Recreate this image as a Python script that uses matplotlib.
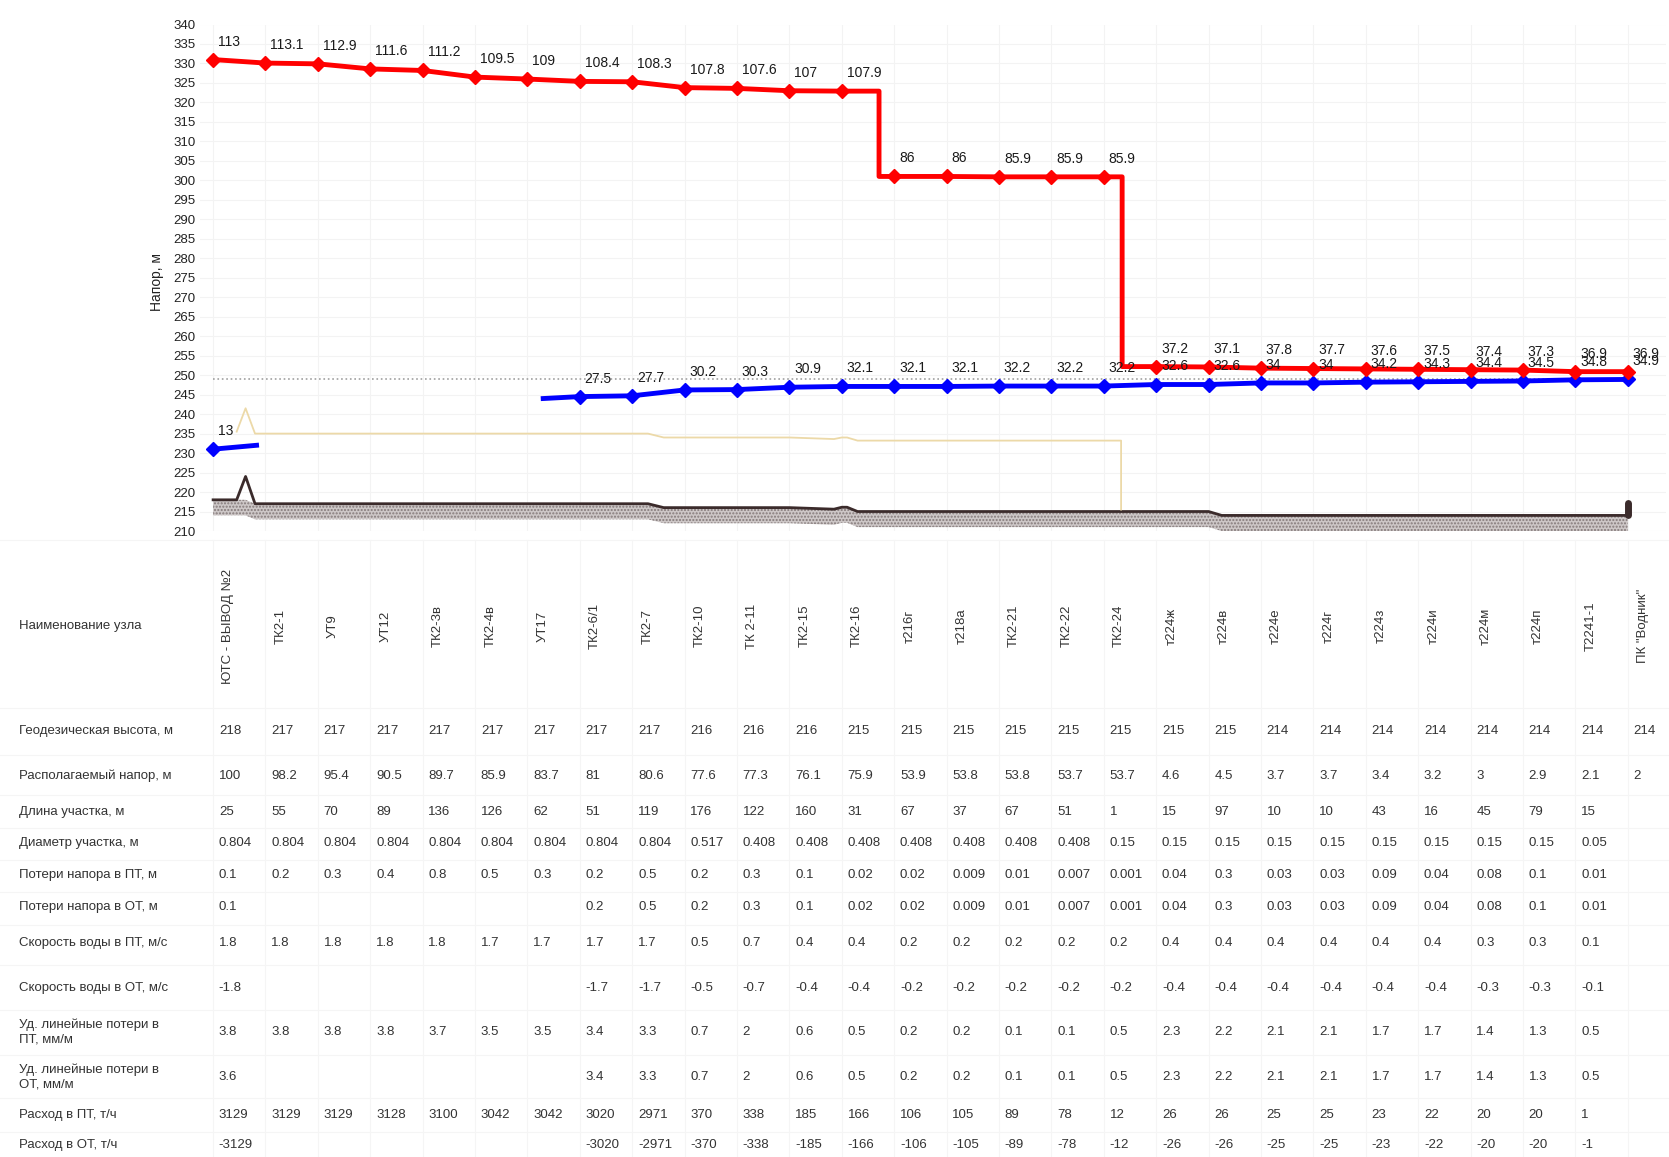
import matplotlib
matplotlib.use("Agg")
import matplotlib.pyplot as plt
import matplotlib.transforms as mtransforms
import numpy as np

plt.rcParams['font.family'] = ['Liberation Sans', 'DejaVu Sans']

# узлы трассы
nodes = ['ЮТС - ВЫВОД №2', 'ТК2-1', 'УТ9', 'УТ12', 'ТК2-3в', 'ТК2-4в', 'УТ17', 'ТК2-6/1',
         'ТК2-7', 'ТК2-10', 'ТК 2-11', 'ТК2-15', 'ТК2-16', 'т216г', 'т218а', 'ТК2-21',
         'ТК2-22', 'ТК2-24', 'т224ж', 'т224в', 'т224е', 'т224г', 'т224з', 'т224и',
         'т224м', 'т224п', 'Т2241-1', 'ПК "Водник"']

geo = [218, 217, 217, 217, 217, 217, 217, 217, 217, 216, 216, 216, 215, 215, 215, 215,
       215, 215, 215, 215, 214, 214, 214, 214, 214, 214, 214, 214]

# напор в ПТ / ОТ над отметкой земли
sup_label = [113, 113.1, 112.9, 111.6, 111.2, 109.5, 109, 108.4, 108.3, 107.8, 107.6, 107,
             107.9, 86, 86, 85.9, 85.9, 85.9, 37.2, 37.1, 37.8, 37.7, 37.6, 37.5, 37.4,
             37.3, 36.9, 36.9]
ret_label = [13, None, None, None, None, None, None, 27.5, 27.7, 30.2, 30.3, 30.9, 32.1,
             32.1, 32.1, 32.2, 32.2, 32.2, 32.6, 32.6, 34, 34, 34.2, 34.3, 34.4, 34.5,
             34.8, 34.9]

# перепады (регуляторы) между узлами, в долях шага
step_pos = [12.71, 17.35]
# обрывки линии ОТ без узлов
ret_stub_pos = [0.83, 6.3]
ret_stub_head = [232, 244]

# профиль земли
ground_pos = [0, 0.45, 0.62, 0.8, 8.3, 8.6, 11.0, 11.85, 12.0, 12.1, 12.3, 19.0, 19.25, 27]
ground_h = [218, 218, 224, 217, 217, 216, 216, 215.6, 216.1, 216.1, 215, 215, 214, 214]
# линия статического напора
tan_pos = [0.45, 0.62, 0.8, 8.3, 8.6, 11.0, 11.85, 12.0, 12.1, 12.3, 17.33, 17.33]
tan_h = [235.5, 241.5, 235, 235, 234, 234, 233.6, 234.0, 234.0, 233.2, 233.2, 215.5]
static_line = 249
end_bar = [214, 217.3]

# таблица
disp_head = [100, 98.2, 95.4, 90.5, 89.7, 85.9, 83.7, 81, 80.6, 77.6, 77.3, 76.1, 75.9, 53.9,
             53.8, 53.8, 53.7, 53.7, 4.6, 4.5, 3.7, 3.7, 3.4, 3.2, 3, 2.9, 2.1, 2]
length = [25, 55, 70, 89, 136, 126, 62, 51, 119, 176, 122, 160, 31, 67, 37, 67, 51, 1, 15,
          97, 10, 10, 43, 16, 45, 79, 15, None]
diam = [0.804, 0.804, 0.804, 0.804, 0.804, 0.804, 0.804, 0.804, 0.804, 0.517, 0.408, 0.408,
        0.408, 0.408, 0.408, 0.408, 0.408, 0.15, 0.15, 0.15, 0.15, 0.15, 0.15, 0.15, 0.15,
        0.15, 0.05, None]
loss_pt = [0.1, 0.2, 0.3, 0.4, 0.8, 0.5, 0.3, 0.2, 0.5, 0.2, 0.3, 0.1, 0.02, 0.02, 0.009,
           0.01, 0.007, 0.001, 0.04, 0.3, 0.03, 0.03, 0.09, 0.04, 0.08, 0.1, 0.01, None]
loss_ot = [0.1, None, None, None, None, None, None, 0.2, 0.5, 0.2, 0.3, 0.1, 0.02, 0.02,
           0.009, 0.01, 0.007, 0.001, 0.04, 0.3, 0.03, 0.03, 0.09, 0.04, 0.08, 0.1, 0.01, None]
speed_pt = [1.8, 1.8, 1.8, 1.8, 1.8, 1.7, 1.7, 1.7, 1.7, 0.5, 0.7, 0.4, 0.4, 0.2, 0.2, 0.2,
            0.2, 0.2, 0.4, 0.4, 0.4, 0.4, 0.4, 0.4, 0.3, 0.3, 0.1, None]
speed_ot = [-1.8, None, None, None, None, None, None, -1.7, -1.7, -0.5, -0.7, -0.4, -0.4,
            -0.2, -0.2, -0.2, -0.2, -0.2, -0.4, -0.4, -0.4, -0.4, -0.4, -0.4, -0.3, -0.3,
            -0.1, None]
udl_pt = [3.8, 3.8, 3.8, 3.8, 3.7, 3.5, 3.5, 3.4, 3.3, 0.7, 2, 0.6, 0.5, 0.2, 0.2, 0.1, 0.1,
          0.5, 2.3, 2.2, 2.1, 2.1, 1.7, 1.7, 1.4, 1.3, 0.5, None]
udl_ot = [3.6, None, None, None, None, None, None, 3.4, 3.3, 0.7, 2, 0.6, 0.5, 0.2, 0.2, 0.1,
          0.1, 0.5, 2.3, 2.2, 2.1, 2.1, 1.7, 1.7, 1.4, 1.3, 0.5, None]
flow_pt = [3129, 3129, 3129, 3128, 3100, 3042, 3042, 3020, 2971, 370, 338, 185, 166, 106,
           105, 89, 78, 12, 26, 26, 25, 25, 23, 22, 20, 20, 1, None]
flow_ot = [-3129, None, None, None, None, None, None, -3020, -2971, -370, -338, -185, -166,
           -106, -105, -89, -78, -12, -26, -26, -25, -25, -23, -22, -20, -20, -1, None]

rows = [('Геодезическая высота, м', geo),
        ('Располагаемый напор, м', disp_head),
        ('Длина участка, м', length),
        ('Диаметр участка, м', diam),
        ('Потери напора в ПТ, м', loss_pt),
        ('Потери напора в ОТ, м', loss_ot),
        ('Скорость воды в ПТ, м/с', speed_pt),
        ('Скорость воды в ОТ, м/с', speed_ot),
        ('Уд. линейные потери в\nПТ, мм/м', udl_pt),
        ('Уд. линейные потери в\nОТ, мм/м', udl_ot),
        ('Расход в ПТ, т/ч', flow_pt),
        ('Расход в ОТ, т/ч', flow_ot)]
row_y = [731, 776, 812, 843, 875, 907, 943, 988, 1032, 1077, 1115, 1145]  # px от верха
name_y = 626

W, H = 1669, 1157
fig = plt.figure(figsize=(W / 100, H / 100), dpi=100)
ax = fig.add_axes([200 / W, 1 - 531 / H, 1466 / W, (531 - 24.5) / H])
ax.set_xlim(-0.25, 27.73)
ax.set_ylim(210, 340)
for s in ax.spines.values():
    s.set_visible(False)
x = np.arange(len(nodes))
ax.set_xticks(x)
ax.set_xticklabels([])
ax.set_yticks(np.arange(210, 341, 5))
ax.tick_params(length=0, labelsize=9.5, pad=3, colors='#222222')
ax.grid(color='#f3f3f3', lw=0.8)
ax.set_axisbelow(True)

# земля
gp = np.array(ground_pos)
gh = np.array(ground_h)
soil_top = np.minimum(gh, gh[0])
ax.fill_between(gp, soil_top - 4, soil_top, facecolor='#cdc7c7', edgecolor='#847a7a',
                hatch='.....', lw=0, zorder=2)
ax.plot(gp, gh, color='#3b2b2b', lw=2, zorder=3)
ax.plot([x[-1], x[-1]], end_bar, color='#3b2b2b', lw=5, solid_capstyle='round', zorder=3)

ax.plot(tan_pos, tan_h, color='#ecd9a8', lw=1.3, zorder=3)
ax.plot([x[0], x[-1]], [static_line, static_line], color='#a0a0a0', lw=1.2, ls=':', zorder=3)

# ОТ
ret_head = [g + r if r is not None else None for g, r in zip(geo, ret_label)]
ret_idx = [i for i, r in enumerate(ret_label) if r is not None]
ax.plot([0, ret_stub_pos[0]], [ret_head[0], ret_stub_head[0]], color='#0000ff', lw=3.5,
        zorder=4)
ax.plot([ret_stub_pos[1]] + ret_idx[1:], [ret_stub_head[1]] + [ret_head[i] for i in ret_idx[1:]],
        color='#0000ff', lw=3.5, zorder=4)
ax.plot(ret_idx, [ret_head[i] for i in ret_idx], ls='none', marker='D', ms=7,
        color='#0000ff', zorder=5)

# ПТ
sup_head = np.array(geo) + np.array(sup_label)
rx, ry = [], []
for i in range(len(nodes)):
    rx.append(i)
    ry.append(sup_head[i])
    for p in step_pos:
        if i < p < i + 1:
            rx += [p, p]
            ry += [sup_head[i], sup_head[i + 1]]
ax.plot(rx, ry, color='#ff0000', lw=3.5, zorder=6)
ax.plot(x, sup_head, ls='none', marker='D', ms=7, color='#ff0000', zorder=7)

for i in ret_idx:
    ax.annotate('{:g}'.format(ret_label[i]), (i, ret_head[i]), xytext=(3.5, 13),
                textcoords='offset points', ha='left', va='center', fontsize=10,
                color='#1a1a1a', zorder=8)
for i in x:
    ax.annotate('{:g}'.format(sup_label[i]), (i, sup_head[i]), xytext=(3.5, 13),
                textcoords='offset points', ha='left', va='center', fontsize=10,
                color='#1a1a1a', zorder=8)

fig.text(157 / W, 1 - 282 / H, 'Напор, м', rotation=90, ha='center', va='center',
         fontsize=10, color='#222222')

# таблица
tr = mtransforms.blended_transform_factory(ax.transData, fig.transFigure)
for i in x:
    ax.plot([i, i], [1 - 540 / H, 0], transform=tr, color='#f5f5f5', lw=0.8,
            clip_on=False, zorder=0)
    ax.text(i + 0.29, 1 - name_y / H, nodes[i], rotation=90, ha='center', va='center',
            transform=tr, fontsize=9.5, color='#333333', clip_on=False)

fig.text(19 / W, 1 - name_y / H, 'Наименование узла', ha='left', va='center',
         fontsize=9.5, color='#333333')
for (label, vals), y in zip(rows, row_y):
    fig.text(19 / W, 1 - y / H, label, ha='left', va='center', fontsize=9.5,
             color='#333333', linespacing=1.2)
    for i, v in enumerate(vals):
        if v is None:
            continue
        ax.text(i + 0.11, 1 - y / H, '{:g}'.format(v), ha='left', va='center',
                transform=tr, fontsize=9.5, color='#333333', clip_on=False)

bounds = [540, 708, 755, 795, 828, 860, 892, 925, 965, 1010, 1055, 1098, 1132]
for b in bounds:
    fig.add_artist(plt.Line2D([0, 1], [1 - b / H, 1 - b / H], color='#f5f5f5', lw=0.8))

fig.savefig('out.png', dpi=100)
